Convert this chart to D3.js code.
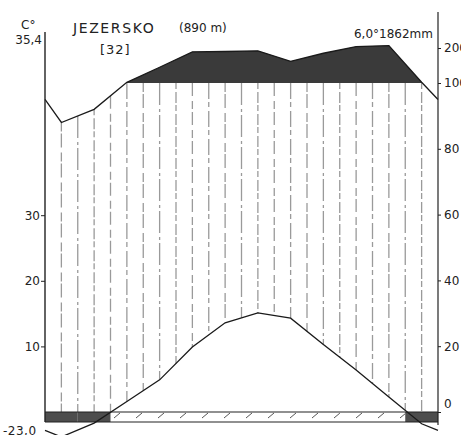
<!DOCTYPE html>
<html>
<head>
<meta charset="utf-8">
<script src="https://cdn.jsdelivr.net/npm/d3@7"></script>
<style>
body { margin: 0; background: #fff; }
svg { display: block; }
text { font-family: "DejaVu Sans", sans-serif; fill: #222; }
</style>
</head>
<body>
<div id="diagram"></div>
<script>
// Walter-Lieth diagram, Jezersko (890 m)
var meseci = ["I", "II", "III", "IV", "V", "VI", "VII", "VIII", "IX", "X", "XI", "XII"];
var temperatura = [-3.8, -1.7, 1.6, 4.9, 9.9, 13.6, 15.1, 14.3, 10.3, 6.4, 2.3, -1.8];
var padavine = [88, 92, 102, 145, 189, 190, 192, 162, 185, 204, 207, 102];
// 2 = povprecni minimum pod 0, 1 = absolutni minimum pod 0
var mraz = [2, 2, 1, 1, 1, 1, 1, 1, 1, 1, 1, 2];
var tempTicks = [10, 20, 30];
var padTicks = [0, 20, 40, 60, 80, 100, 200];

var width = 461, height = 435;
var svg = d3.select("#diagram").append("svg")
        .attr("width", width)
        .attr("height", height);

var x = d3.scaleLinear().domain([0, 12]).range([45, 438]);
var yT = d3.scaleLinear().domain([0, 10]).range([412, 346.4]);
var yP = d3.scaleLinear().domain([0, 100, 200]).range([412, 83, 48]);

// tocke na sredini mesecev + robovi (povprecje dec/jan)
function razsiri(arr) {
    var rob = (arr[0] + arr[arr.length - 1]) / 2;
    var pts = [{m: 0, v: rob}];
    arr.forEach(function (v, i) {
        pts.push({m: i + 0.5, v: v});
    });
    pts.push({m: 12, v: rob});
    return pts;
}
var tT = razsiri(temperatura);
var tP = razsiri(padavine);

function naY(pts, scale, m) {
    for (var i = 0; i < pts.length - 1; i++) {
        if (m >= pts[i].m && m <= pts[i + 1].m) {
            var t = (m - pts[i].m) / (pts[i + 1].m - pts[i].m);
            return scale(pts[i].v) * (1 - t) + scale(pts[i + 1].v) * t;
        }
    }
    return scale(pts[pts.length - 1].v);
}

var defs = svg.append("defs");
defs.append("clipPath").attr("id", "nad100")
        .append("rect")
        .attr("x", 0).attr("y", 0)
        .attr("width", width).attr("height", yP(100));

var pat = defs.append("pattern")
        .attr("id", "srafura")
        .attr("patternUnits", "userSpaceOnUse")
        .attr("width", 22).attr("height", 10);
pat.append("line")
        .attr("x1", 4).attr("y1", 8).attr("x2", 10).attr("y2", 3)
        .attr("stroke", "#555").attr("stroke-width", 1);

// vlazno obdobje - navpicne crte
var vzorci = ["16,3,5,4", "9,2,14,5", "22,4,3,3", "6,3,11,2", "13,5,8,3"];
var crte = d3.range(1, 24).map(function (k) {
    var m = k / 2;
    return {
        k: k,
        x: x(m),
        y1: Math.max(naY(tP, yP, m), yP(100)),
        y2: Math.min(naY(tT, yT, m), yT(0))
    };
}).filter(function (d) {
    return d.y2 > d.y1;
});

svg.append("g")
        .selectAll("line")
        .data(crte)
        .enter()
        .append("line")
        .attr("x1", function (d) { return d.x; })
        .attr("x2", function (d) { return d.x; })
        .attr("y1", function (d) { return d.y1; })
        .attr("y2", function (d) { return d.y2; })
        .attr("stroke", "#9a9a9a")
        .attr("stroke-width", 1.3)
        .attr("stroke-dasharray", function (d) { return vzorci[d.k % vzorci.length]; });

// padavine nad 100 mm
var area = d3.area()
        .x(function (d) { return x(d.m); })
        .y0(yP(100))
        .y1(function (d) { return yP(d.v); });

svg.append("path")
        .datum(tP)
        .attr("clip-path", "url(#nad100)")
        .attr("fill", "#3a3a3a")
        .attr("d", area);

// pas mraza
svg.append("g")
        .selectAll("rect")
        .data(mraz)
        .enter()
        .append("rect")
        .attr("x", function (d, i) { return x(i); })
        .attr("width", function (d, i) { return x(i + 1) - x(i); })
        .attr("y", yT(0))
        .attr("height", 10)
        .attr("fill", function (d) { return d === 2 ? "#4d4d4d" : "url(#srafura)"; });

svg.append("line")
        .attr("x1", x(0)).attr("x2", x(12))
        .attr("y1", yT(0)).attr("y2", yT(0))
        .attr("stroke", "#222").attr("stroke-width", 1.2);
svg.append("line")
        .attr("x1", x(0)).attr("x2", x(12))
        .attr("y1", yT(0) + 10).attr("y2", yT(0) + 10)
        .attr("stroke", "#222").attr("stroke-width", 1.1);

// krivulji
var lineT = d3.line()
        .x(function (d) { return x(d.m); })
        .y(function (d) { return yT(d.v); });
var lineP = d3.line()
        .x(function (d) { return x(d.m); })
        .y(function (d) { return yP(d.v); });

svg.append("path")
        .datum(tT)
        .attr("fill", "none")
        .attr("stroke", "#1a1a1a")
        .attr("stroke-width", 1.3)
        .attr("d", lineT);

svg.append("path")
        .datum(tP)
        .attr("fill", "none")
        .attr("stroke", "#1a1a1a")
        .attr("stroke-width", 1.3)
        .attr("d", lineP);

// osi
svg.append("line")
        .attr("x1", x(0)).attr("x2", x(0))
        .attr("y1", 32).attr("y2", yT(0) + 10)
        .attr("stroke", "#222").attr("stroke-width", 1.4);
svg.append("line")
        .attr("x1", x(12)).attr("x2", x(12))
        .attr("y1", 12).attr("y2", yT(0) + 13)
        .attr("stroke", "#222").attr("stroke-width", 1.2);

var osL = svg.append("g")
        .attr("transform", "translate(" + x(0) + ",0)")
        .call(d3.axisLeft(yT).tickValues(tempTicks).tickSize(4).tickPadding(1));
var osD = svg.append("g")
        .attr("transform", "translate(" + x(12) + ",0)")
        .call(d3.axisRight(yP).tickValues(padTicks).tickSize(3).tickPadding(3));

[osL, osD].forEach(function (os) {
    os.select(".domain").remove();
    os.selectAll("line").attr("stroke", "#222");
    os.selectAll("text")
            .style("font-family", "'DejaVu Sans', sans-serif")
            .style("font-size", "12px")
            .attr("fill", "#222");
});
osD.selectAll(".tick text")
        .filter(function (d) { return d === 0; })
        .attr("dy", "-0.35em");

// napisi
function napis(tx, px, py, size, anchor, ls) {
    svg.append("text")
            .attr("x", px)
            .attr("y", py)
            .attr("text-anchor", anchor || "start")
            .style("font-size", size + "px")
            .style("letter-spacing", (ls || 0) + "px")
            .text(tx);
}
napis("C°", 21, 29, 12);
napis("35,4", 42, 44, 12, "end");
napis("JEZERSKO", 73, 33, 14, "start", 1.6);
napis("(890 m)", 179, 32, 12);
napis("[32]", 100, 54, 13, "start", 1);
napis("6,0°1862mm", 433, 38, 12, "end");
napis("-23,0", 3, 435, 12, "start", 0.5);
</script>
</body>
</html>
